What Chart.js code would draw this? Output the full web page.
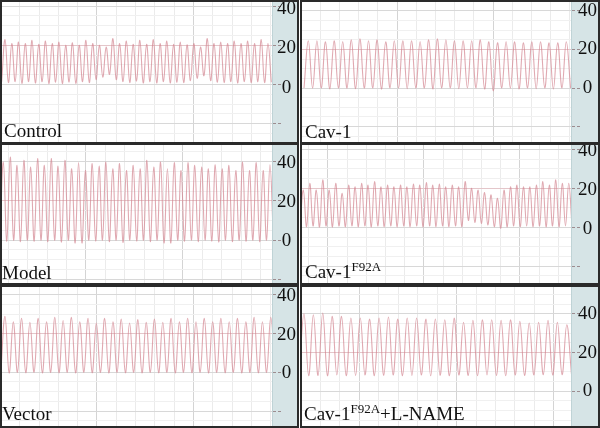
<!DOCTYPE html>
<html><head><meta charset="utf-8">
<script src="https://cdn.jsdelivr.net/npm/chart.js@4"></script>
<style>
html,body{margin:0;padding:0;background:#fff;width:600px;height:428px;overflow:hidden}
.box{position:absolute;border:2px solid #2a2a2a;box-sizing:border-box;overflow:hidden;background:#fff}
.box canvas{position:absolute;left:0;top:0}
.lbl{position:absolute;font-family:"Liberation Serif",serif;font-size:19px;line-height:19px;color:#111;white-space:nowrap}
.lbl sup{font-size:13px;position:relative;top:-7px;vertical-align:baseline;line-height:0}
</style></head><body>
<div class="box" style="left:0;top:0;width:299px;height:144px"><canvas id="c0" width="295" height="140"></canvas><div class="lbl" style="left:2px;top:119px">Control</div></div>
<div class="box" style="left:300px;top:0;width:300px;height:144px"><canvas id="c1" width="296" height="140"></canvas><div class="lbl" style="left:3px;top:120px">Cav-1</div></div>
<div class="box" style="left:0;top:143px;width:299px;height:142px"><canvas id="c2" width="295" height="138"></canvas><div class="lbl" style="left:0px;top:118px">Model</div></div>
<div class="box" style="left:300px;top:143px;width:300px;height:142px"><canvas id="c3" width="296" height="138"></canvas><div class="lbl" style="left:3px;top:117px">Cav-1<sup>F92A</sup></div></div>
<div class="box" style="left:0;top:285px;width:299px;height:143px"><canvas id="c4" width="295" height="139"></canvas><div class="lbl" style="left:0px;top:117px">Vector</div></div>
<div class="box" style="left:300px;top:285px;width:300px;height:143px"><canvas id="c5" width="296" height="139"></canvas><div class="lbl" style="left:2px;top:117px">Cav-1<sup>F92A</sup>+L-NAME</div></div>
<script>
// Peak and trough values
const controlPeaks = [22.9,20.9,21.7,20.9,22.6,20.5,22.2,20.9,21.7,20,21.3,20,22.6,20.9,20,19.1,23.4,20.9,22.2,20.5,22.6,20.5,22.9,20.9,22.2,20.5,21.7,20.3,20.9,19.1,23.4,20.9,21.7,20.9,22.2,20.9,22.2,20.9,22.9,20.9];
const controlTroughs = [1.5,1,1.5,0.5,1.5,0.8,1.5,0.5,1.2,0.5,1.3,0.6,1.5,1,2.5,3.8,5.2,2.5,1.5,1,1.8,0.8,1.5,0.8,1.5,0.8,1.2,1,2.0,3.2,4.5,2,1.2,1,1.5,0.8,1.5,1,1.5,1,1.2];
const cav1Peaks = [24.5,24.5,24,24.5,24,25,25.5,24.5,25,24,24.5,24.5,24.5,24,25,25.5,25,24.5,24.5,24.5,25,24,23.5,24,24,23.5,24,24,23.5,23.5,24];
const cav1Troughs = [0,0,0,-0.5,0,0,-0.3,0,0,-0.5,0,0,-0.3,0,0,-0.5,0,0,-0.3,0,0,-0.5,-1.5,0,0,-0.5,0,-0.3,0,-0.5,0,0];
const modelPeaks = [39.8,42.4,38.1,40.7,37.2,41.6,38.1,41.6,37.7,40.7,36.4,39.5,35.5,39,37.7,39.8,36.4,39,35.5,38.1,36.4,40.7,37.2,39.8,36.4,39.5,35.5,39.5,38.1,37.2,36.4,38.4,36.4,38.1,35.5,39.8,35.5,39.5,35.5,38.4];
const modelTroughs = [0,-0.5,0,-0.8,0,-0.5,0,-0.8,0,-1,0,-1.5,-1.5,0,-0.5,0,-0.8,0,-1.2,0,-0.5,0,-0.8,0,-1.5,-1.5,0,-0.5,0,-0.8,0,-0.5,-1,0,-0.8,0,-0.5,0,-0.8,0,0];
const f92aPeaks = [19.1,22.6,19.1,24.3,19.1,22.6,17.4,21.7,20.8,22.6,21.7,23.4,20.8,21.7,20.8,21.7,20.8,22.2,21.7,22.9,21.7,22.2,20.8,21.7,20.8,23.4,20,19.1,17.8,16.6,14.9,19.1,20.8,21.7,20.8,20.8,21.7,23.4,21.7,24.3,22.6,22.6];
const f92aTroughs = [0.7,0.3,0.7,0.2,0.7,0.2,0.7,0.3,0.7,0.3,0.7,0.2,0.7,0.3,0.7,0.2,0.7,0.3,0.7,0.2,0.7,0.3,0.7,0.3,0.7,0.3,3.5,2.5,2,1.2,0.3,-0.5,0.2,0.7,0.3,0.7,0.3,0.7,0.2,0.7,0.3,0.7,0.8];
const vectorPeaks = [28.9,26.1,27.9,25.8,27.9,26.1,28.4,26.7,28.4,26.1,27.9,25.4,27.9,26.1,27.5,25.4,27.2,25.8,27.5,25.8,27.9,26.1,27.9,26.1,27.9,26.1,27.9,26.1,27.9,26.1,28.4,26.1,28.4];
const vectorTroughs = [0,-0.3,0,-0.2,0,-0.3,0,-0.2,0,-0.3,0,-0.2,0,-0.3,0,-0.2,0,-0.3,0,-0.2,0,-0.3,0,-0.2,0,-0.3,0,-0.2,0,-0.3,0,-0.2,0,0];
const lnamePeaks = [40,39.5,40.4,38.7,38.7,37.8,37.8,37.3,37.8,38.3,37.3,37.8,37.8,37.3,37.3,36.9,37.8,35.6,36.6,36.9,36.9,36.6,36.9,36.1,35.2,35.6,36.6,35.6,34.3];
const lnameTroughs = [8.2,8,8.2,8,8.4,8,8.2,8.4,8,8.2,8.4,8,8.2,8.4,8,8.2,8,8.4,8.2,8,8.4,8.2,8,8.4,8.2,8.4,8.6,8.4,8.6,9];
const yTickLabels = [0, 20, 40];

function series(peaks, troughs){
  const out = [];
  for (let i = 0; i < troughs.length; i++){
    out.push({x: out.length, y: troughs[i]});
    if (i < peaks.length) out.push({x: out.length, y: peaks[i]});
  }
  return out;
}

const panels = [
  {id:'c0', p:controlPeaks, t:controlTroughs, yMin:-29.3, yMax:42.1, xMin:0.1, xMax:80.2, gMin:0.08, gMax:14.07, band:25, lo:3},
  {id:'c1', p:cav1Peaks, t:cav1Troughs, yMin:-28, yMax:44.6, xMin:-0.47, xMax:62.1, gMin:0.05, gMax:14.06, band:27, lo:0},
  {id:'c2', p:modelPeaks, t:modelTroughs, yMin:-21.9, yMax:48.5, xMin:0.6, xMax:79.6, gMin:0.67, gMax:14.59, band:25, lo:1},
  {id:'c3', p:f92aPeaks, t:f92aTroughs, yMin:-28.6, yMax:42.2, xMin:0.59, xMax:83.7, gMin:-1.35, gMax:12.66, band:27, lo:2},
  {id:'c4', p:vectorPeaks, t:vectorTroughs, yMin:-27.7, yMax:44, xMin:0.28, xMax:65.3, gMin:0.08, gMax:14.07, band:25, lo:1},
  {id:'c5', p:lnamePeaks, t:lnameTroughs, yMin:-17.9, yMax:53.8, xMin:0.58, xMax:57.9, gMin:2.06, gMax:15.88, band:27, lo:0}
];

const bandPlugin = {
  id:'band',
  beforeDraw(chart){
    const {ctx, chartArea:a, width, height} = chart;
    ctx.save();
    ctx.fillStyle = '#d6e4e6';
    ctx.fillRect(a.right, 0, width - a.right, height);
    ctx.restore();
  }
};

const isMult = (v, m) => Math.abs(v / m - Math.round(v / m)) < 1e-6;
const near = (a, b) => Math.abs(a - b) < 1e-6;

panels.forEach(cfg => {
  new Chart(document.getElementById(cfg.id), {
    type:'line',
    data:{datasets:[{
      data: series(cfg.p, cfg.t), xAxisID:'x', yAxisID:'y',
      borderColor:'rgba(210,128,140,0.68)', borderWidth:1.1,
      pointRadius:0, tension:0.4, fill:false
    }]},
    options:{
      responsive:false, animation:false, events:[],
      layout:{padding:0},
      plugins:{legend:{display:false}, tooltip:{enabled:false}},
      scales:{
        x:{type:'linear', display:false, min:cfg.xMin, max:cfg.xMax},
        xg:{type:'linear', position:'bottom', min:cfg.gMin, max:cfg.gMax,
            ticks:{display:false, stepSize:1, includeBounds:false, autoSkip:false},
            grid:{drawTicks:false, lineWidth:1, color:c => (c.tick && isMult(c.tick.value, 5)) ? '#d4d4d4' : '#ebebeb'},
            border:{display:false}},
        y:{type:'linear', position:'right', min:cfg.yMin, max:cfg.yMax,
           afterFit(s){ s.width = cfg.band; s.paddingTop = 0; s.paddingBottom = 0; },
           ticks:{stepSize:5, includeBounds:false, autoSkip:false, crossAlign:'center', padding:cfg.band === 25 ? -4 : -2,
                  labelOffset:cfg.lo,
                  color:'#111', font:{family:'Liberation Serif', size:19},
                  callback:v => yTickLabels.some(t => near(t, v)) ? String(Math.round(v)) : ''},
           grid:{lineWidth:1, tickLength:9, tickBorderDash:[3,2],
                 color:c => { const v = c.tick ? c.tick.value : 1; return near(v, 20) ? '#e4c6ca' : (isMult(v, 20) ? '#d8d8d8' : '#f0f0f0'); },
                 tickColor:c => (c.tick && isMult(c.tick.value, 20)) ? '#9c8c8f' : 'rgba(0,0,0,0)'},
           border:{color:'#bfd3d6'}}
      }
    },
    plugins:[bandPlugin]
  });
});
</script>
</body></html>
